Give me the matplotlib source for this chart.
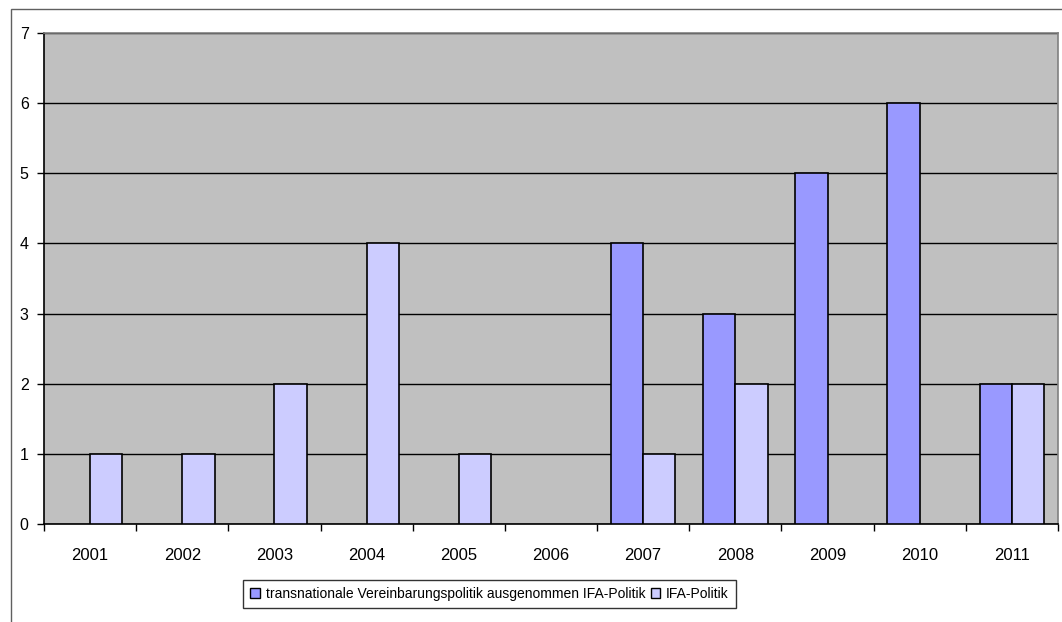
import matplotlib
matplotlib.use("Agg")
import matplotlib.pyplot as plt
import numpy as np
from matplotlib.patches import Rectangle, Patch

plt.rcParams['font.family'] = ['Liberation Sans', 'DejaVu Sans']

years = ["2001", "2002", "2003", "2004", "2005", "2006", "2007", "2008", "2009", "2010", "2011"]
transnational = [0, 0, 0, 0, 0, 0, 4, 3, 5, 6, 2]
ifa = [1, 1, 2, 4, 1, 0, 1, 2, 0, 0, 2]
labels = ["transnationale Vereinbarungspolitik ausgenommen IFA-Politik", "IFA-Politik"]
colors = ["#9999FF", "#CCCCFF"]

W, H = 1062, 622
fig = plt.figure(figsize=(W / 100, H / 100), dpi=100)
ax = fig.add_axes([44 / W, 1 - 524 / H, (1058 - 44) / W, (524 - 33) / H])
ax.set_facecolor("#C0C0C0")

x = np.arange(len(years))
bw = 0.35
lw1 = [1.2 if v > 0 else 0 for v in transnational]
lw2 = [1.2 if v > 0 else 0 for v in ifa]
ax.bar(x - bw / 2, transnational, bw, color=colors[0], edgecolor="black", linewidth=lw1, zorder=3)
ax.bar(x + bw / 2, ifa, bw, color=colors[1], edgecolor="black", linewidth=lw2, zorder=3)

ax.set_xlim(-0.5, len(years) - 0.5)
ax.set_ylim(0, 7)
ax.set_yticks(range(0, 8))
ax.yaxis.grid(True, color="black", linewidth=1, zorder=1)
ax.set_axisbelow(True)

ax.set_xticks(x)
ax.set_xticklabels(years, fontsize=12)
ax.set_xticks(np.arange(-0.5, len(years), 1.0), minor=True)
ax.tick_params(axis="x", which="major", length=0, pad=17)
ax.tick_params(axis="x", which="minor", length=5, width=1, direction="out", color="black")
ax.tick_params(axis="y", length=5, width=1, direction="out", labelsize=11.5, pad=6)

for s in ["top", "right"]:
    ax.spines[s].set_color("#808080")
    ax.spines[s].set_linewidth(1.2)
for s in ["left", "bottom"]:
    ax.spines[s].set_color("black")
    ax.spines[s].set_linewidth(1.2)

handles = [Patch(facecolor=c, edgecolor="black", linewidth=1) for c in colors]
fig.legend(handles, labels, loc="center", bbox_to_anchor=((244 + 735) / 2 / W, 1 - 594 / H),
           ncol=2, fontsize=10, frameon=True, fancybox=False, edgecolor="black",
           handlelength=0.7, handleheight=0.7, handletextpad=0.4, columnspacing=0.4,
           borderpad=0.5, borderaxespad=0)

fig.patches.append(Rectangle((11 / W, -0.1), 1.2, 1 - 9 / H + 0.1, transform=fig.transFigure,
                             fill=False, edgecolor="#606060", linewidth=1, clip_on=False))

fig.savefig("out.png", dpi=100)
